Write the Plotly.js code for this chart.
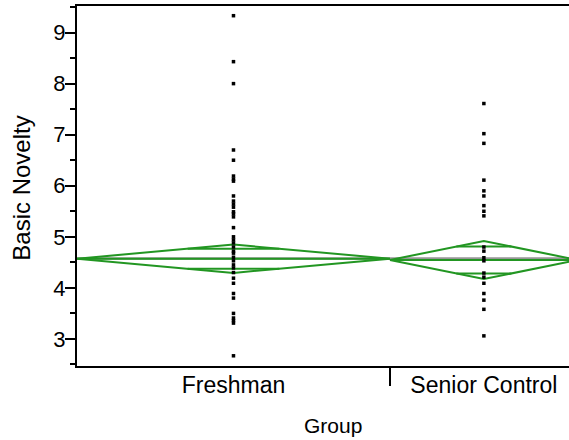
<!DOCTYPE html>
<html>
<head>
<meta charset="utf-8">
<script src="https://cdn.plot.ly/plotly-3.0.1.min.js"></script>
<style>html,body{margin:0;padding:0;background:#fff;}#chart{width:569px;height:440px;}</style>
</head>
<body>
<div id="chart"></div>
<script>
// ---- data ----
const groups = ["Freshman", "Senior Control"];
const groupN = [50, 30];               // relative group sizes (diamond widths)
const freshmanValues = [9.33, 8.43, 8.0, 6.70, 6.50, 6.19, 6.13, 6.09, 5.80, 5.70, 5.64, 5.58, 5.49, 5.45, 5.39, 5.18,
  5.00, 4.94, 4.88, 4.80, 4.72, 4.68, 4.60, 4.53, 4.45, 4.39, 4.30, 4.19, 4.09, 3.89, 3.80, 3.50, 3.41, 3.36, 3.31, 2.67];
const seniorValues = [7.61, 7.02, 6.83, 6.11, 5.90, 5.80, 5.61, 5.50, 5.41, 4.80, 4.72, 4.59, 4.53, 4.29, 4.21, 4.09,
  3.89, 3.76, 3.58, 3.06];
const groupMeans = [4.571, 4.546];
const groupCIHalf = [0.278, 0.372];
const grandMean = 4.575;

// ---- build ----
const green = "rgb(34,150,34)";
const bounds = [0];
groupN.forEach((n, i) => bounds.push(bounds[i] + n));
const centers = groupN.map((n, i) => bounds[i] + n / 2);
const values = [freshmanValues, seniorValues];

const traces = [];
traces.push({x: [bounds[0], bounds[bounds.length - 1]], y: [grandMean, grandMean], mode: "lines",
  line: {color: "rgb(150,150,150)", width: 2.5}, hoverinfo: "skip", showlegend: false});

groups.forEach((g, i) => {
  const x0 = bounds[i], x1 = bounds[i + 1], xc = centers[i];
  const m = groupMeans[i], c = groupCIHalf[i];
  const hw = (x1 - x0) / 2;
  const ov = c / Math.SQRT2;
  const ow = hw * (1 - 1 / Math.SQRT2);
  traces.push({x: [x0, xc, x1, xc, x0], y: [m, m + c, m, m - c, m], mode: "lines",
    line: {color: green, width: 2}, hoverinfo: "skip", showlegend: false});
  traces.push({x: [x0, x1], y: [m, m], mode: "lines", line: {color: green, width: 2}, hoverinfo: "skip", showlegend: false});
  traces.push({x: [xc - ow, xc + ow, null, xc - ow, xc + ow], y: [m + ov, m + ov, null, m - ov, m - ov], mode: "lines",
    line: {color: green, width: 2}, hoverinfo: "skip", showlegend: false});
});

groups.forEach((g, i) => {
  traces.push({x: values[i].map(() => centers[i]), y: values[i], mode: "markers", name: g,
    marker: {symbol: "square", size: 3.5, color: "#000"}, showlegend: false});
});

const layout = {
  width: 569, height: 440,
  margin: {l: 77, r: 0, t: 6, b: 74},
  paper_bgcolor: "#fff", plot_bgcolor: "#fff",
  font: {family: "Liberation Sans, Arial, sans-serif", color: "#000", size: 21},
  showlegend: false,
  xaxis: {
    range: [0, 78.6], showgrid: false, zeroline: false,
    showline: true, linecolor: "#000", linewidth: 2, mirror: true,
    tickmode: "array", tickvals: centers, ticktext: groups, ticks: "",
    tickfont: {size: 23}, ticklabelstandoff: -3,
    minor: {tickmode: "array", tickvals: bounds.slice(1, -1), ticks: "outside", ticklen: 18, tickwidth: 2, tickcolor: "#000"},
    fixedrange: true
  },
  yaxis: {
    range: [2.47, 9.52], showgrid: false, zeroline: false,
    showline: true, linecolor: "#000", linewidth: 2,
    tickmode: "linear", tick0: 0, dtick: 1, ticks: "outside", ticklen: 10, tickwidth: 2, tickcolor: "#000",
    minor: {dtick: 0.5, ticks: "outside", ticklen: 5, tickwidth: 2, tickcolor: "#000"},
    tickfont: {size: 22}, ticklabelstandoff: -5,
    fixedrange: true
  },
  annotations: [
    {text: "Group", xref: "paper", yref: "paper", x: 0.52, y: -0.165, xanchor: "center", yanchor: "middle",
      showarrow: false, font: {size: 21}},
    {text: "Basic Novelty", xref: "paper", yref: "paper", x: -0.112, y: 0.495, xanchor: "center", yanchor: "middle",
      textangle: -90, showarrow: false, font: {size: 24}}
  ]
};

Plotly.newPlot("chart", traces, layout, {displayModeBar: false, staticPlot: true});
</script>
</body>
</html>
